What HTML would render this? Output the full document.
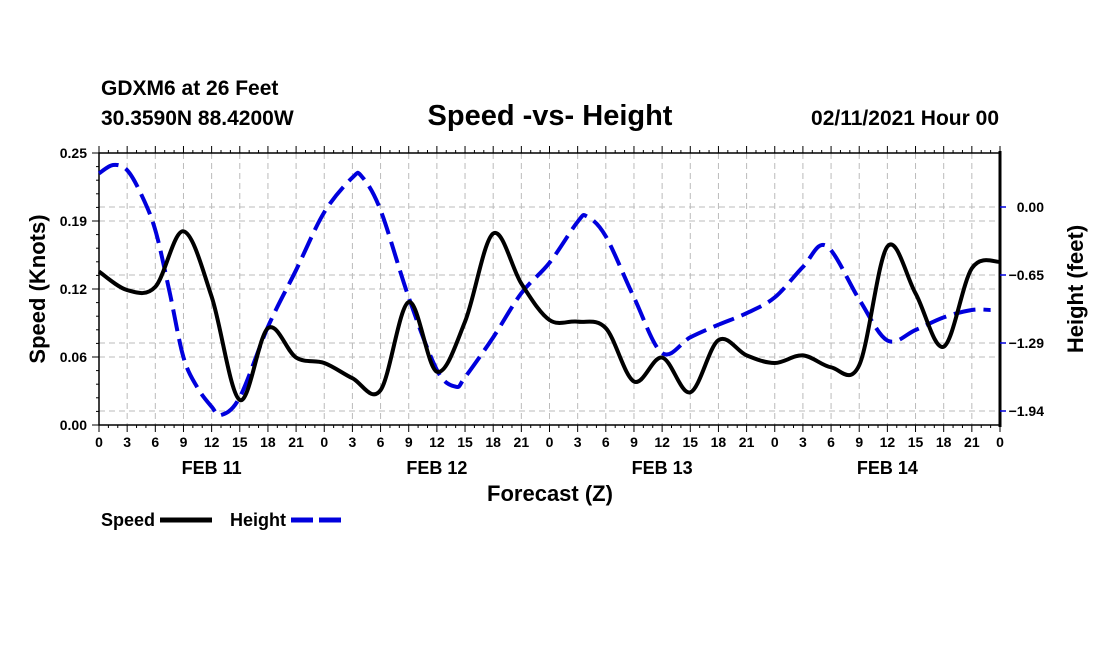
<!DOCTYPE html>
<html><head><meta charset="utf-8">
<style>
html,body{margin:0;padding:0;background:#fff;}
svg{display:block;font-family:"Liberation Sans",Arial,sans-serif;font-weight:bold;}
</style></head>
<body>
<svg id="chart" width="1100" height="650" viewBox="0 0 1100 650" xmlns="http://www.w3.org/2000/svg">
<rect width="1100" height="650" fill="#fff"/>
<text x="101" y="95" font-size="21">GDXM6 at 26 Feet</text>
<text x="101" y="125" font-size="21">30.3590N 88.4200W</text>
<text x="550" y="125" font-size="29" text-anchor="middle">Speed -vs- Height</text>
<text x="999" y="125" font-size="21" text-anchor="end">02/11/2021 Hour 00</text>
<g id="grid"></g>
<g id="axes"></g>
<g id="series"></g>
<text x="550" y="501" font-size="22" text-anchor="middle">Forecast (Z)</text>
<text transform="translate(45,289) rotate(-90)" font-size="22" text-anchor="middle">Speed (Knots)</text>
<text transform="translate(1083,289) rotate(-90)" font-size="22" text-anchor="middle">Height (feet)</text>
<g>
<text x="101" y="526" font-size="18">Speed</text>
<line x1="160" y1="520" x2="212" y2="520" stroke="#000" stroke-width="5"/>
<text x="230" y="526" font-size="18">Height</text>
<line x1="291" y1="520" x2="342" y2="520" stroke="#0000dd" stroke-width="5" stroke-dasharray="22,6"/>
</g>
</svg>
<script>
const hours = [0,3,6,9,12,15,18,21,24,27,30,33,36,39,42,45,48,51,54,57,60,63,66,69,72,75,78,81,84,87,90,93,96];
const speedValues = [0.141,0.124,0.127,0.178,0.118,0.023,0.089,0.062,0.057,0.043,0.032,0.113,0.049,0.095,0.176,0.130,0.0965,0.095,0.089,0.040,0.062,0.030,0.078,0.064,0.057,0.064,0.053,0.055,0.164,0.121,0.072,0.144,0.150];
const heightHours = [0,1.5,3,4.5,6,7.5,9,10.5,12,13,15,18,21,24,27,28,30,33,36,38,39,42,45,48,51,52,54,57,60,63,66,69,72,75,77.5,81,84,87,90,93,95];
const heightValues = [0.32,0.40,0.35,0.12,-0.22,-0.80,-1.43,-1.72,-1.90,-1.98,-1.81,-1.14,-0.60,-0.05,0.28,0.29,-0.03,-0.86,-1.55,-1.71,-1.62,-1.24,-0.82,-0.53,-0.14,-0.09,-0.28,-0.86,-1.39,-1.24,-1.12,-1.01,-0.86,-0.57,-0.37,-0.88,-1.27,-1.17,-1.05,-0.98,-0.98];
const speedTicks = [0,0.0625,0.125,0.1875,0.25];
const speedTickLabels = ["0.00","0.06","0.12","0.19","0.25"];
const heightTicks = [0,-0.647,-1.294,-1.941];
const heightTickLabels = ["0.00","-0.65","-1.29","-1.94"];
const dayLabels = ["FEB 11","FEB 12","FEB 13","FEB 14"];

const X0=99,X1=1000,Y0=425,Y1=153;
const NS="http://www.w3.org/2000/svg";
function xS(h){return X0+(h/96)*(X1-X0);}
function yS(v){return Y0-(v/0.25)*(Y0-Y1);}
function yH(v){return 207-(v/0.647)*68;}
function mk(tag,attrs,parent){const e=document.createElementNS(NS,tag);for(const k in attrs)e.setAttribute(k,attrs[k]);parent.appendChild(e);return e;}
const grid=document.getElementById('grid'),axes=document.getElementById('axes'),series=document.getElementById('series');
const dash={stroke:"#bbb","stroke-width":1,"stroke-dasharray":"6,4"};
for(let h=3;h<96;h+=3){const l=mk('line',Object.assign({x1:xS(h),x2:xS(h),y1:Y1,y2:Y0},dash),grid);

}
speedTicks.forEach(v=>{if(v>0&&v<0.25){const l=mk('line',Object.assign({x1:X0,x2:X1,y1:yS(v),y2:yS(v)},dash),grid);

}});
heightTicks.forEach(v=>{const l=mk('line',Object.assign({x1:X0,x2:X1,y1:yH(v),y2:yH(v)},dash),grid);

});
mk('rect',{x:X0,y:Y1,width:X1-X0,height:Y0-Y1,fill:"none",stroke:"#000","stroke-width":1.5},axes);
const ra=mk('line',{x1:X1,x2:X1,y1:Y1-2,y2:Y0+2,stroke:"#000","stroke-width":3},axes);


for(let h=0;h<=96;h++){const major=h%3===0;const len=major?7:3;
mk('line',{x1:xS(h),x2:xS(h),y1:Y0,y2:Y0+len,stroke:"#000","stroke-width":1},axes);
mk('line',{x1:xS(h),x2:xS(h),y1:Y1,y2:Y1-len,stroke:"#000","stroke-width":1},axes);
if(major){const t=mk('text',{x:xS(h),y:Y0+22,"font-size":14,"text-anchor":"middle"},axes);t.textContent=String(h%24);

}}
for(let i=0;i<=20;i++){const v=i*0.0125;const major=i%5===0;mk('line',{x1:X0,x2:X0-(major?7:3),y1:yS(v),y2:yS(v),stroke:"#000","stroke-width":1},axes);}
speedTicks.forEach((v,i)=>{const t=mk('text',{x:X0-12,y:yS(v)+5,"font-size":14,"text-anchor":"end"},axes);t.textContent=speedTickLabels[i];

});
heightTicks.forEach((v,i)=>{mk('line',{x1:X1,x2:X1+6,y1:yH(v),y2:yH(v),stroke:"#0000dd","stroke-width":1.5},axes);
const t=mk('text',{x:1044,y:yH(v)+5,"font-size":14,"text-anchor":"end"},axes);t.textContent=heightTickLabels[i].replace('-','\u2212');

});
dayLabels.forEach((d,i)=>{const t=mk('text',{x:xS(i*24+12),y:474,"font-size":18,"text-anchor":"middle"},axes);t.textContent=d;

});
function smooth(pts){let d="M"+pts[0][0]+","+pts[0][1];
for(let i=0;i<pts.length-1;i++){const p0=pts[Math.max(0,i-1)],p1=pts[i],p2=pts[i+1],p3=pts[Math.min(pts.length-1,i+2)];
const c1=[p1[0]+(p2[0]-p0[0])/6,p1[1]+(p2[1]-p0[1])/6],c2=[p2[0]-(p3[0]-p1[0])/6,p2[1]-(p3[1]-p1[1])/6];
d+=" C"+c1[0]+","+c1[1]+" "+c2[0]+","+c2[1]+" "+p2[0]+","+p2[1];}return d;}
const hp=mk('path',{d:smooth(heightHours.map((h,i)=>[xS(h),yH(heightValues[i])])),fill:"none",stroke:"#0000dd","stroke-width":4,"stroke-dasharray":"22,8"},series);


const sp=mk('path',{d:smooth(hours.map((h,i)=>[xS(h),yS(speedValues[i])])),fill:"none",stroke:"#000","stroke-width":4,"stroke-linejoin":"round"},series);


</script>
</body></html>
